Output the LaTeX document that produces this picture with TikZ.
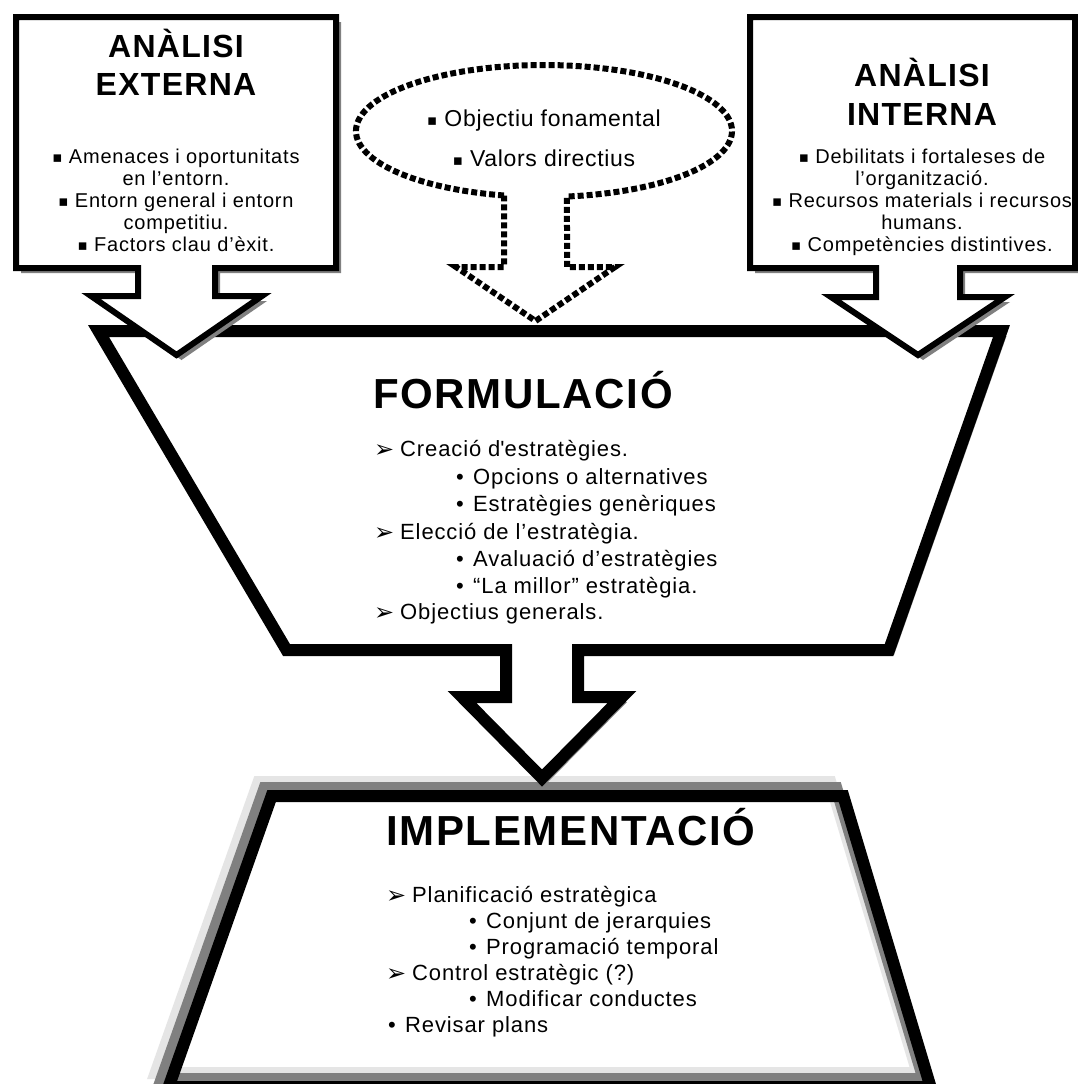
\documentclass[tikz,border=0pt]{standalone}
\usepackage{fontspec}
\setmainfont{Liberation Sans}
\newfontfamily\symf{DejaVu Sans}
\newfontfamily\lsf[LetterSpace=4]{Liberation Sans}
\newfontfamily\lsfe[LetterSpace=3]{Liberation Sans}
\newcommand\myfs[1]{\fontsize{#1}{#1}\selectfont}
\newcommand\mysq{\raisebox{1pt}{\symf\myfs{15}▪}}
\newcommand\myarr{\raisebox{-1pt}{\symf\myfs{24}➢}}
\newcommand\arrI[1]{\makebox[26pt][l]{\myarr}#1}
\newcommand\bulI[1]{\makebox[17pt][l]{•}#1}
\def\pathLC{(16,17) -- (336,17) -- (336,268) -- (215,268) -- (215,296) -- (262,296) -- (176.5,355) -- (91,296) -- (138,296) -- (138,268) -- (16,268) -- cycle}
\def\pathRC{(750,17) -- (1075,17) -- (1075,268) -- (960,268) -- (960,297) -- (1005,297) -- (918,355) -- (831,297) -- (876,297) -- (876,268) -- (750,268) -- cycle}
\def\pathD{(504,195.5) arc[start angle=102.28, end angle=442.97, x radius=188, y radius=66] -- (567,267) -- (615,267) -- (535.5,321) -- (456,267) -- (504,267) -- cycle}
\def\pathF{(98.5,331) -- (1001.5,331) -- (889,650) -- (578,650) -- (578,697) -- (622,697) -- (542,778) -- (462,697) -- (506,697) -- (506,650) -- (286.5,650) -- cycle}
\def\pathI{(271.6,796) -- (843.3,796) -- (930.6,1087) -- (168.6,1087) -- cycle}
\tikzset{
  shapebox/.style={draw=black, fill=white, line width=6pt},
  bigshape/.style={draw=black, fill=white, line width=12pt},
  shadowfill/.style={fill=gray, draw=none},
  dashedshape/.style={draw=black, fill=white, line width=6pt, dash pattern=on 6pt off 3pt},
  ttl/.style={inner sep=0pt, anchor=base, font={\lsf\bfseries\myfs{32}}},
  bx/.style={inner sep=0pt, anchor=base, font={\lsf\myfs{20}}},
  el/.style={inner sep=0pt, anchor=base, font={\lsfe\myfs{23}}},
  big/.style={inner sep=0pt, anchor=base west, font={\lsf\bfseries\myfs{42}}},
  li/.style={inner sep=0pt, anchor=base west, font={\lsf\myfs{22}}}
}
\begin{document}
\begin{tikzpicture}[x=1pt,y=-1pt,line join=miter]
\useasboundingbox (0,0) rectangle (1078,1084);
\fill[white] (0,0) rectangle (1078,1084);
\clip (0,0) rectangle (1078,1084);
% IMPLEMENTACIO
\fill[white] \pathI;
\draw[black!10, line width=12pt, shift={(-13,-14)}] \pathI;
\draw[gray, line width=12pt, shift={(-7,-8)}] \pathI;
\draw[black, line width=12pt] \pathI;
% FORMULACIO with arrow
\path[shadowfill, shift={(5,5)}] \pathF;
\path[bigshape] \pathF;
% dashed ellipse with arrow
\path[dashedshape] \pathD;
% callouts
\path[shadowfill, shift={(5,5)}] \pathLC;
\path[shapebox] \pathLC;
\path[shadowfill, shift={(5,5)}] \pathRC;
\path[shapebox] \pathRC;
% left box text
\node[ttl] (lt1) at (176,57) {ANÀLISI};
\node[ttl] (lt2) at (176,95) {EXTERNA};
\node[bx] (lb1) at (176,163) {\mysq\ Amenaces i oportunitats};
\node[bx] (lb2) at (176,185) {en l’entorn.};
\node[bx] (lb3) at (176,207) {\mysq\ Entorn general i entorn};
\node[bx] (lb4) at (176,229) {competitiu.};
\node[bx] (lb5) at (176,251) {\mysq\ Factors clau d’èxit.};
% right box text
\node[ttl] (rt1) at (922,86) {ANÀLISI};
\node[ttl] (rt2) at (922,125) {INTERNA};
\node[bx] (rb1) at (922,163) {\mysq\ Debilitats i fortaleses de};
\node[bx] (rb2) at (922,185) {l’organització.};
\node[bx] (rb3) at (922,207) {\mysq\ Recursos materials i recursos};
\node[bx] (rb4) at (922,229) {humans.};
\node[bx] (rb5) at (922,251) {\mysq\ Competències distintives.};
% ellipse text
\node[el] (e1) at (544,126) {\mysq\ Objectiu fonamental};
\node[el] (e2) at (544,166) {\mysq\ Valors directius};
% formulacio
\node[big] (ft) at (373,408) {FORMULACIÓ};
\node[li] (f1) at (374,456) {\arrI{Creació d\textquotesingle estratègies.}};
\node[li] (f2) at (456,484) {\bulI{Opcions o alternatives}};
\node[li] (f3) at (456,511) {\bulI{Estratègies genèriques}};
\node[li] (f4) at (374,539) {\arrI{Elecció de l’estratègia.}};
\node[li] (f5) at (456,566) {\bulI{Avaluació d’estratègies}};
\node[li] (f6) at (456,593) {\bulI{“La millor” estratègia.}};
\node[li] (f7) at (374,619) {\arrI{Objectius generals.}};
% implementacio
\node[big] (it) at (386,845) {IMPLEMENTACIÓ};
\node[li] (i1) at (386,902) {\arrI{Planificació estratègica}};
\node[li] (i2) at (469,928) {\bulI{Conjunt de jerarquies}};
\node[li] (i3) at (469,954) {\bulI{Programació temporal}};
\node[li] (i4) at (386,980) {\arrI{Control estratègic (?)}};
\node[li] (i5) at (469,1006) {\bulI{Modificar conductes}};
\node[li] (i6) at (388,1032) {\bulI{Revisar plans}};
\end{tikzpicture}
\end{document}
